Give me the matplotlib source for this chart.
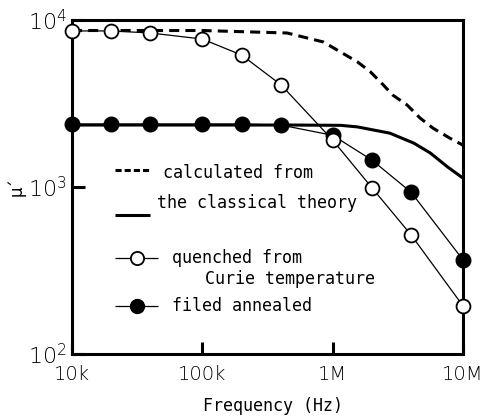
import numpy as np
import matplotlib
matplotlib.use("Agg")
import matplotlib.pyplot as plt

plt.rcParams["font.family"] = ["DejaVu Sans Mono"]
plt.rcParams["lines.solid_capstyle"] = "butt"

# measured permeability (open = quenched, filled = annealed)
freq_pts = [1e4, 2e4, 4e4, 1e5, 2e5, 4e5, 1e6, 2e6, 4e6, 1e7]
mu_quenched = [8600, 8600, 8360, 7690, 6170, 4100, 1910, 990, 516, 194]
mu_annealed = [2380, 2380, 2380, 2380, 2380, 2350, 2040, 1450, 930, 366]

# classical theory curves
freq_calc_q = [1e4, 1e5, 4.47e5, 8.51e5, 1.15e6, 1.55e6, 1.95e6, 2.45e6,
               2.88e6, 3.72e6, 4.68e6, 5.89e6, 7.94e6, 1e7]
mu_calc_q = [8650, 8650, 8360, 7380, 6430, 5610, 4890, 4080,
             3560, 3100, 2590, 2250, 1960, 1780]
freq_calc_a = [1e4, 4.7e5, 1.15e6, 1.55e6, 2.75e6, 4.2e6, 5.6e6, 7.6e6, 1e7]
mu_calc_a = [2350, 2350, 2340, 2290, 2100, 1830, 1600, 1320, 1130]

x_ticks = [1e4, 1e5, 1e6, 1e7]
x_tick_labels = ["10k", "100k", "1M", "10M"]
y_ticks = [1e2, 1e3, 1e4]
y_tick_labels = [r"$\mathregular{10^{2}}$", r"$\mathregular{10^{3}}$", r"$\mathregular{10^{4}}$"]

fig = plt.figure(figsize=(4.91, 4.20), dpi=100)
ax = fig.add_axes([72 / 491, 66 / 420, 391 / 491, 334 / 420])
ax.set_xscale("log")
ax.set_yscale("log")
ax.set_xlim(1e4, 1e7)
ax.set_ylim(1e2, 1e4)

# theory curves
ax.plot(freq_calc_q, mu_calc_q, color="k", lw=2.2, dashes=(3.3, 2.0), zorder=2)
ax.plot(freq_calc_a, mu_calc_a, color="k", lw=2.2, zorder=2)

# measurements
ax.plot(freq_pts, mu_annealed, color="k", lw=0.9, marker="o", ms=10.5,
        mfc="k", mec="k", clip_on=False, zorder=3)
ax.plot(freq_pts, mu_quenched, color="k", lw=0.9, marker="o", ms=10,
        mfc="w", mec="k", mew=1.3, clip_on=False, zorder=4)

# axes styling
for s in ax.spines.values():
    s.set_linewidth(2.2)
ax.set_xticks(x_ticks, x_tick_labels)
ax.set_yticks(y_ticks, y_tick_labels)
ax.minorticks_off()
ax.tick_params(direction="in", length=9, width=2.2)
ax.tick_params(axis="x", pad=8)
ax.tick_params(axis="y", pad=3.5)
for lab in ax.get_xticklabels():
    lab.set_fontfamily("DejaVu Sans")
    lab.set_fontsize(14)
    lab.set_fontweight("light")
for lab in ax.get_yticklabels():
    lab.set_fontfamily("DejaVu Sans")
    lab.set_fontsize(16)
    lab.set_fontweight("light")

ax.set_xlabel("Frequency (Hz)", fontsize=12)
ax.xaxis.set_label_coords(0.514, -0.13)
ax.set_ylabel("μ´", fontsize=12, fontfamily="DejaVu Sans", va="center")
ax.yaxis.set_label_coords(-0.141, 0.5)

# hand-placed key
tr = ax.transAxes
ax.plot([0.110, 0.199], [0.551, 0.551], color="k", lw=2.2, dashes=(2.0, 1.0), transform=tr)
ax.text(0.233, 0.542, "calculated from", fontsize=12, va="center", transform=tr)
ax.text(0.217, 0.452, "the classical theory", fontsize=12, va="center", transform=tr)
ax.plot([0.110, 0.199], [0.416, 0.416], color="k", lw=2.2, transform=tr)

ax.plot([0.110, 0.220], [0.287, 0.287], color="k", lw=0.9, transform=tr)
ax.plot([0.166], [0.287], marker="o", ms=9.5, mfc="w", mec="k", mew=1.3, transform=tr)
ax.text(0.256, 0.287, "quenched from", fontsize=12, va="center", transform=tr)
ax.text(0.340, 0.225, "Curie temperature", fontsize=12, va="center", transform=tr)

ax.plot([0.110, 0.220], [0.144, 0.144], color="k", lw=0.9, transform=tr)
ax.plot([0.166], [0.144], marker="o", ms=10, mfc="k", mec="k", transform=tr)
ax.text(0.256, 0.144, "filed annealed", fontsize=12, va="center", transform=tr)

fig.savefig("out.png", dpi=100)
